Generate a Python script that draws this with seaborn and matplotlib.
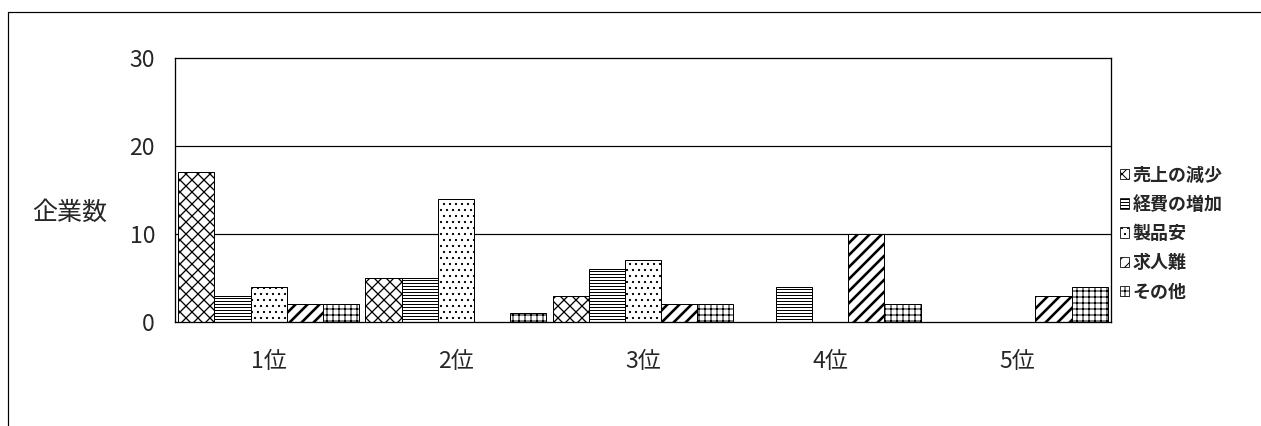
import numpy as np
import pandas as pd
import matplotlib
matplotlib.use("Agg")
import matplotlib.pyplot as plt
from matplotlib.patches import Patch
from matplotlib.lines import Line2D
import seaborn as sns

categories = ["1位", "2位", "3位", "4位", "5位"]
series = ["売上の減少", "経費の増加", "製品安", "求人難", "その他"]
v_uriage = [17, 5, 3, 0, 0]
v_keihi = [3, 5, 6, 4, 0]
v_seihin = [4, 14, 7, 0, 0]
v_kyujin = [2, 0, 2, 10, 3]
v_sonota = [2, 1, 2, 2, 4]
y_ticks = [0, 10, 20, 30]
y_label = "企業数"

values = [v_uriage, v_keihi, v_seihin, v_kyujin, v_sonota]
rows = []
for s, vals in zip(series, values):
    for c, v in zip(categories, vals):
        rows.append({"順位": c, "要因": s, "企業数": v})
df = pd.DataFrame(rows)

sns.set_theme(style="white")
plt.rcParams["font.family"] = ["Noto Sans CJK JP", "DejaVu Sans"]
plt.rcParams["hatch.linewidth"] = 1.0
plt.rcParams["hatch.color"] = "black"

DPI = 72
W, H = 1261, 426
fig = plt.figure(figsize=(W / DPI, H / DPI), dpi=DPI)
ax = fig.add_axes([175 / W, 1 - 322 / H, (1111 - 175) / W, (322 - 58) / H])

sns.barplot(data=df, x="順位", y="企業数", hue="要因", order=categories,
            hue_order=series, width=0.965, palette=["white"] * 5,
            edgecolor="black", linewidth=1.0, legend=False, ax=ax, saturation=1)

hatches = ["xx", "----", "..", "//", "++"]
hlw = [1.3, 1.0, 1.0, 2.6, 1.0]
for cont, h, lw in zip(ax.containers, hatches, hlw):
    for bar in cont:
        bar.set_hatch(h)
        bar.set_facecolor("white")
        bar.set_edgecolor("black")
        if hasattr(bar, "set_hatch_linewidth"):
            bar.set_hatch_linewidth(lw)

ax.set_ylim(0, 30)
ax.set_yticks(y_ticks)
ax.set_xlim(-0.5, 4.5)
for y in [10, 20]:
    ax.axhline(y, color="black", linewidth=1.2, zorder=0)
for sp in ax.spines.values():
    sp.set_color("black")
    sp.set_linewidth(1.3)
ax.tick_params(axis="both", length=0, labelsize=23)
ax.tick_params(axis="y", pad=20)
ax.tick_params(axis="x", pad=28)
ax.set_xlabel("")
ax.set_ylabel("")

fig.text(70 / W, 1 - 213 / H, y_label, fontsize=25, ha="center", va="center")

handles = []
for h, lw in zip(hatches, hlw):
    p = Patch(facecolor="white", edgecolor="black", hatch=h, linewidth=0.8)
    if hasattr(p, "set_hatch_linewidth"):
        p.set_hatch_linewidth(lw)
    handles.append(p)
leg = fig.legend(handles, series, loc="center left",
                 bbox_to_anchor=(1113 / W, 1 - 234 / H),
                 frameon=False, handlelength=0.5, handleheight=0.5,
                 handletextpad=0.2, labelspacing=0.62, borderaxespad=0,
                 prop={"weight": "bold", "size": 18})

fig.add_artist(Line2D([8 / W, 8 / W], [0, 1 - 12 / H], color="black", linewidth=1.2))
fig.add_artist(Line2D([8 / W, 1], [1 - 12 / H, 1 - 12 / H], color="black", linewidth=1.2))

fig.savefig("out.png", dpi=DPI)
